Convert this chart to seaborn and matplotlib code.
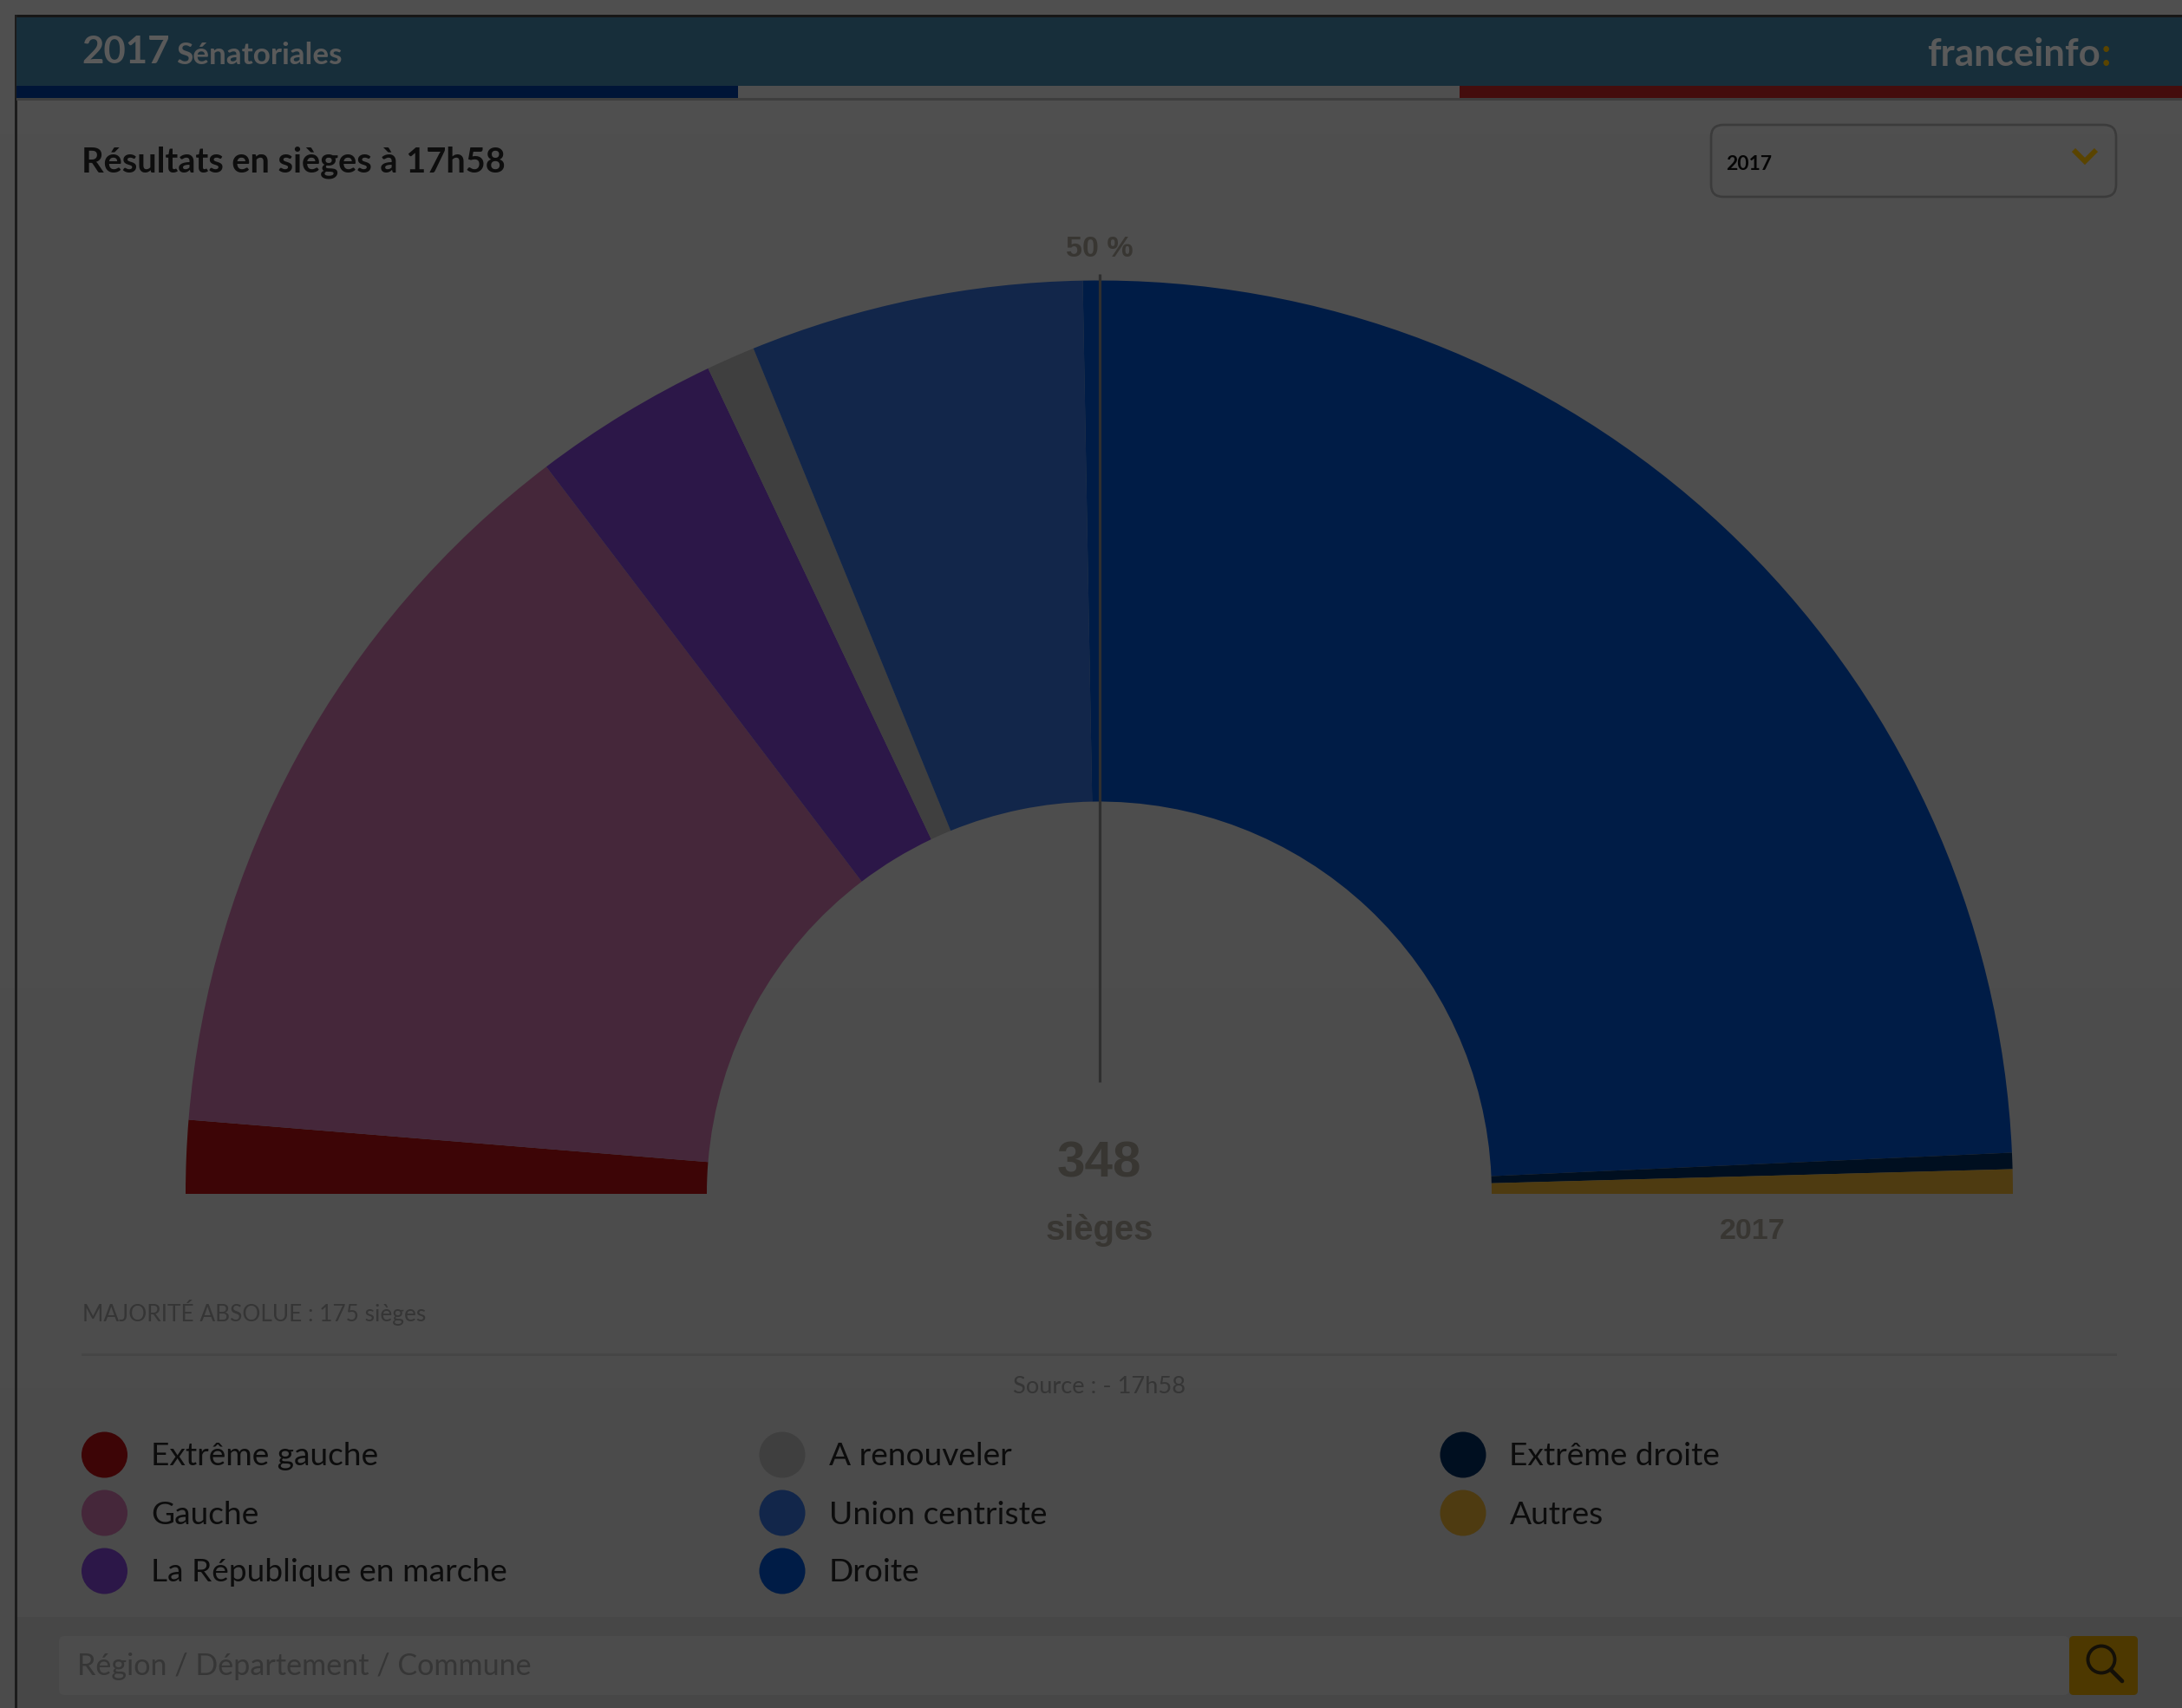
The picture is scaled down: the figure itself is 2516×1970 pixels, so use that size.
import numpy as np
import pandas as pd
import matplotlib
matplotlib.use("Agg")
import matplotlib.pyplot as plt
from matplotlib.patches import Rectangle, FancyBboxPatch, Circle
import seaborn as sns

# Senate seats by political group, in hemicycle order from left to right
parties = ["Extrême gauche", "Gauche", "La République en marche", "A renouveler",
           "Union centriste", "Droite", "Extrême droite", "Autres"]
seats = [9, 93, 23, 6, 41, 171, 2, 3]
colors = ["#3d0506", "#45273a", "#2c1748", "#3f3f3f", "#12264a", "#001c46", "#000f20", "#4e3b11"]

total_seats = "348"
majority_label = "MAJORITÉ ABSOLUE : 175 sièges"
source_label = "Source : - 17h58"
title_label = "Résultats en sièges à 17h58"
search_hint = "Région / Département / Commune"

# Legend layout: one (x, y) swatch centre for each group, in pixels
legend_x = [120.5, 120.5, 120.5, 902, 902, 902, 1687, 1687]
legend_y = [1678, 1745, 1812, 1678, 1745, 1812, 1678, 1745]

W, H = 2516, 1970
DPI = 100
UI_FONT = ["Lato", "DejaVu Sans"]
CHART_FONT = ["Liberation Sans", "DejaVu Sans"]
CHART_INK = "#383632"

sns.set_theme(style="white")
plt.rcParams["font.family"] = UI_FONT

fig = plt.figure(figsize=(W / DPI, H / DPI), dpi=DPI)


def pixel_axes(zorder):
    ax = fig.add_axes([0, 0, 1, 1], zorder=zorder)
    ax.set_xlim(0, W)
    ax.set_ylim(H, 0)
    ax.axis("off")
    return ax


page = pixel_axes(0)
top = pixel_axes(2)

# Page background with its slight vertical falloff
page.imshow(np.linspace(0x4f, 0x4b, 64).reshape(-1, 1), extent=(0, W, H, 0), aspect="auto",
            cmap="gray", vmin=0, vmax=255, zorder=0)
page.set_xlim(0, W)
page.set_ylim(H, 0)


def box(x0, y0, x1, y1, color, ax=page, z=1):
    ax.add_patch(Rectangle((x0, y0), x1 - x0, y1 - y0, facecolor=color, edgecolor="none", zorder=z))


# Frame and banner
box(18, 17, W, 20, "#161616")
box(17, 17, 19.5, H, "#1c1c1c")
box(19, 20, W, 99, "#172e3a")
box(19, 99, 851, 113, "#001537")
box(851, 99, 1683, 113, "#4f4f4f")
box(1683, 99, W, 113, "#440d0d")
box(19, 113, W, 116, "#3e3e3e")

page.text(94, 73, "2017", fontsize=31.5, fontweight="bold", color="#5a5a5a", va="baseline")
page.text(203, 74, "Sénatoriales", fontsize=25.3, fontweight="bold", color="#5a5a5a", va="baseline")
page.text(2422, 76, "franceinfo", fontsize=31.5, fontweight="bold", color="#5a5a5a", va="baseline", ha="right")
page.text(2423, 76, ":", fontsize=31.5, fontweight="bold", color="#5a4400", va="baseline", ha="left")

page.text(94, 199, title_label, fontsize=28.6, fontweight="bold", color="#0d0d0d", va="baseline")

# Year selector
page.add_patch(FancyBboxPatch((1987, 158), 439, 55, boxstyle="round,pad=14,rounding_size=14",
                              facecolor="none", edgecolor="#3b3b3b", linewidth=1.9, zorder=2))
page.text(1990, 196, "2017", fontsize=16.5, fontweight="bold", color="#050505", va="baseline")
page.plot([2391, 2404, 2417], [173, 186, 173], color="#5a4400", linewidth=4.2,
          solid_joinstyle="miter", solid_capstyle="butt", zorder=3)

# Hemicycle: a donut whose lower half is left unpainted
cx, base_y, R, r = 1267.5, 1377, 1053.5, 452.5
donut = fig.add_axes([(cx - R) / W, 1 - (base_y + R) / H, 2 * R / W, 2 * R / H], zorder=1)
donut.patch.set_alpha(0)
wedges, _ = donut.pie(seats + [sum(seats)], colors=colors + ["none"], startangle=180, counterclock=False,
                      radius=1, wedgeprops=dict(width=1 - r / R, linewidth=0))
donut.set_xlim(-1, 1)
donut.set_ylim(-1, 1)
donut.axis("off")

# Majority marker and chart labels
top.plot([1267.7, 1267.7], [316, 1248], color="#2f2f2f", linewidth=2.3, solid_capstyle="butt")
top.text(1267.5, 296, "50 %", fontsize=24.5, fontweight="bold", family=CHART_FONT, color=CHART_INK,
         ha="center", va="baseline")
top.text(1267.5, 1358, total_seats, fontsize=42, fontweight="bold", family=CHART_FONT, color=CHART_INK,
         ha="center", va="baseline")
top.text(1267.5, 1430, "sièges", fontsize=28.8, fontweight="bold", family=CHART_FONT, color=CHART_INK,
         ha="center", va="baseline")
top.text(2020.5, 1429, "2017", fontsize=24.5, fontweight="bold", family=CHART_FONT, color=CHART_INK,
         ha="center", va="baseline")

# Notes under the chart
page.text(95, 1524, majority_label, fontsize=18.9, color="#353535", va="baseline")
box(94, 1560.5, 2441, 1563.5, "#454545")
page.text(1267.5, 1607, source_label, fontsize=19.6, color="#353535", ha="center", va="baseline")

# Legend swatches and labels
legend_df = pd.DataFrame({"x": legend_x, "y": legend_y, "party": parties})
sns.scatterplot(data=legend_df, x="x", y="y", hue="party", palette=dict(zip(parties, colors)),
                s=1457, linewidth=0, legend=False, ax=page, zorder=3)
page.set_xlabel("")
page.set_ylabel("")
page.set_xlim(0, W)
page.set_ylim(H, 0)
page.axis("off")
for x, y, name in zip(legend_x, legend_y, parties):
    page.text(x + 53.5, y + 12.5, name, fontsize=26.7, color="#0c0c0c", va="baseline")

# Search bar
box(19.5, 1865, W, H, "#474747")
page.add_patch(FancyBboxPatch((72, 1891), 2310, 60, boxstyle="round,pad=4,rounding_size=6",
                              facecolor="#4c4c4c", edgecolor="none", zorder=2))
page.text(89, 1932, search_hint, fontsize=24.6, color="#363636", va="baseline", zorder=3)
page.add_patch(FancyBboxPatch((2390, 1891), 71, 60, boxstyle="round,pad=4,rounding_size=5",
                              facecolor="#4d3800", edgecolor="none", zorder=3))
page.add_patch(Circle((2423, 1914), 15.5, facecolor="none", edgecolor="#141008", linewidth=2.8, zorder=4))
page.plot([2434, 2447], [1926, 1939], color="#141008", linewidth=3.4, solid_capstyle="round", zorder=4)

fig.savefig("out.png", dpi=DPI)
